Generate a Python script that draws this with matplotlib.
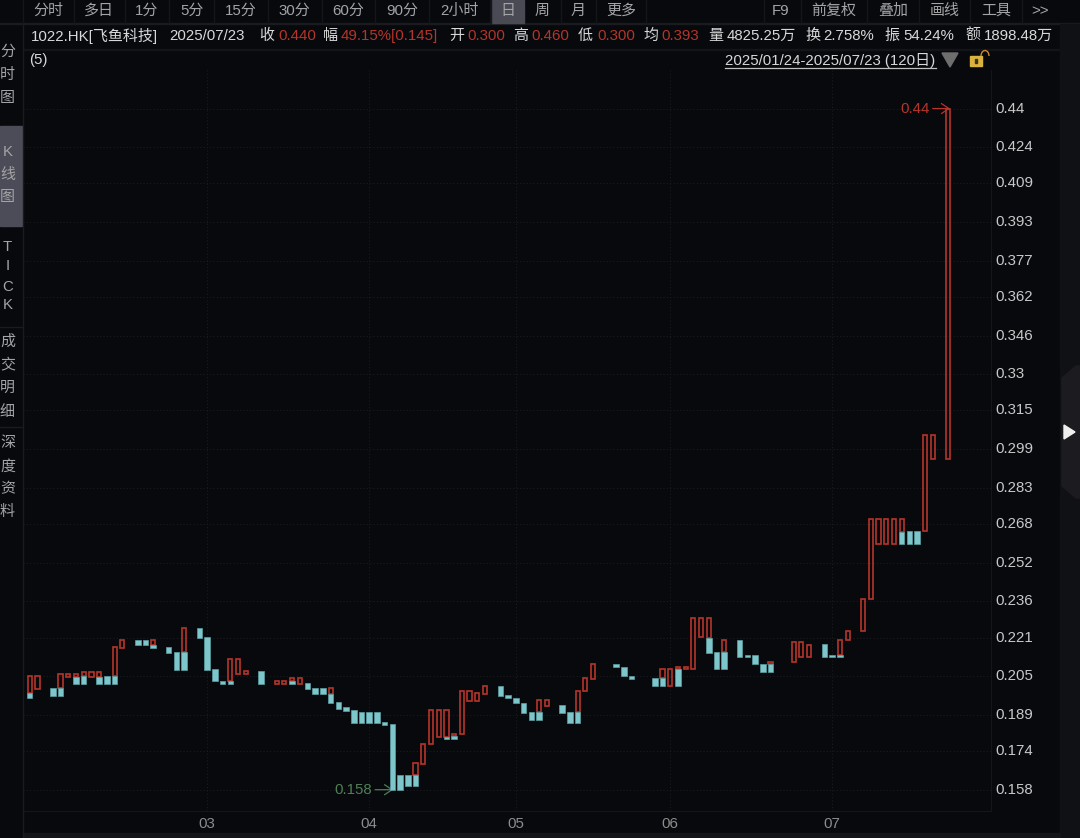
import matplotlib
matplotlib.use("Agg")
import matplotlib.pyplot as plt
from matplotlib.patches import Rectangle, Polygon, Arc
from matplotlib.transforms import ScaledTranslation

plt.rcParams["font.family"] = ["Liberation Sans", "Noto Sans CJK SC", "DejaVu Sans"]

W, H = 1080, 838
BG = "#08090d"
RED = "#b5352a"
TEAL = "#7cc6cc"
GREEN = "#4f7f55"
GREY = "#a4a4a6"
WHITE = "#d8d8d8"
GRID = "#191b1f"
LINE = "#15161a"

# up part of each daily bar: bar number, low, high
red_idx = [0, 1, 4, 5, 6, 7, 8, 9, 11, 12, 16, 20, 26, 27, 28, 32, 33, 34, 35, 39,
           50, 51, 52, 53, 54, 55, 56, 57, 58, 59, 66, 67, 71, 72, 73, 82, 83, 84, 85,
           86, 87, 88, 90, 96, 99, 100, 101, 105, 106, 108, 109, 110, 111, 112, 113,
           116, 117, 119]
red_low = [.1979, .1997, .2000, .2048, .2048, .2051, .2048, .2048, .2052, .2168, .2178,
           .2150, .2031, .2058, .2058, .2019, .2018, .2031, .2018, .1976,
           .1641, .1686, .1768, .1800, .1800, .1803, .1811, .1949, .1949, .1976,
           .1902, .1928, .1902, .1987, .2038, .2041, .2008, .2080, .2078,
           .2078, .2211, .2208, .2150, .2100, .2109, .2129, .2129, .2139, .2200,
           .2238, .2370, .2599, .2599, .2599, .2648, .2650, .2948, .2948]
red_high = [.2051, .2051, .2059, .2059, .2059, .2069, .2069, .2069, .2169, .2200, .2201,
            .2249, .2120, .2120, .2070, .2031, .2031, .2041, .2041, .2000,
            .1689, .1769, .1909, .1909, .1909, .1811, .1989, .1989, .1979, .2009,
            .1950, .1950, .1990, .2041, .2100, .2080, .2080, .2089, .2089,
            .2290, .2290, .2290, .2200, .2109, .2190, .2190, .2180, .2200, .2238,
            .2371, .2699, .2699, .2699, .2699, .2699, .3050, .3050, .4400]

# down part of each daily bar
teal_idx = [0, 3, 4, 6, 7, 9, 10, 11, 14, 15, 16, 18, 19, 20, 22, 23, 24, 25, 26, 30,
            34, 36, 37, 38, 39, 40, 41, 42, 43, 44, 45, 46, 47, 48, 49, 50, 54, 55,
            61, 62, 63, 64, 65, 66, 69, 70, 71, 76, 77, 78, 81, 82, 84, 88, 89, 90,
            92, 93, 94, 95, 96, 103, 104, 105, 113, 114, 115]
teal_low = [.1958, .1968, .1968, .2018, .2018, .2018, .2018, .2018, .2178, .2178, .2167,
            .2146, .2077, .2077, .2208, .2077, .2029, .2018, .2018, .2018,
            .2016, .1996, .1976, .1976, .1938, .1916, .1906, .1858, .1858, .1858, .1858,
            .1846, .1579, .1579, .1597, .1597, .1789, .1789,
            .1969, .1958, .1938, .1899, .1869, .1869, .1899, .1858, .1858, .2088, .2049,
            .2038, .2008, .2008, .2008, .2147, .2078, .2078,
            .2129, .2129, .2099, .2066, .2066, .2129, .2129, .2129, .2599, .2599, .2599]
teal_high = [.1979, .2000, .2000, .2048, .2051, .2048, .2052, .2052, .2201, .2201, .2178,
             .2171, .2150, .2150, .2251, .2211, .2080, .2031, .2031, .2070,
             .2031, .2022, .2001, .2001, .1976, .1942, .1921, .1909, .1903, .1903, .1903,
             .1862, .1851, .1641, .1641, .1641, .1800, .1803,
             .2009, .1971, .1961, .1940, .1902, .1902, .1929, .1902, .1902, .2100, .2089,
             .2051, .2041, .2041, .2080, .2208, .2149, .2150,
             .2200, .2138, .2138, .2102, .2100, .2182, .2139, .2139, .2648, .2651, .2651]

y_ticks = [0.158, 0.174, 0.189, 0.205, 0.221, 0.236, 0.252, 0.268, 0.283, 0.299,
           0.315, 0.33, 0.346, 0.362, 0.377, 0.393, 0.409, 0.424, 0.44]
month_idx = [23, 44, 63, 83, 104]
month_labels = ["03", "04", "05", "06", "07"]

top_tabs = ["分时", "多日", "1分", "5分", "15分", "30分", "60分", "90分", "2小时", "日", "周", "月", "更多"]
top_tab_x = [48, 99, 147, 192, 241, 294, 348, 402, 459, 508, 542, 578, 621]
top_tab_sep = [23, 74, 125, 169, 214, 268, 322, 375, 429, 491, 561, 596, 646, 764, 801, 867, 919, 970, 1022]
right_tabs = ["F9", "前复权", "叠加", "画线", "工具", ">>"]
right_tab_x = [781, 834, 893, 945, 996, 1040]

fig = plt.figure(figsize=(W / 100, H / 100), dpi=100, facecolor=BG)

# pixel space overlay for the terminal chrome
ui = fig.add_axes([0, 0, 1, 1], zorder=3)
ui.set_xlim(0, W)
ui.set_ylim(H, 0)
ui.axis("off")

L, R, T, B = 23, 991, 70, 811
ax = fig.add_axes([L / W, 1 - B / H, (R - L) / W, (B - T) / H], facecolor=BG, zorder=1)
ax.set_xlim((L - 29.7) / 7.717, (R - 29.7) / 7.717)
ax.set_ylim(0.158 - (B - 789.7) * 0.000414, 0.158 + (789.7 - T) * 0.000414)

ax.grid(True, color=GRID, lw=0.8, ls=(0, (1, 2)))
ax.set_axisbelow(True)
ax.set_yticks(y_ticks)
ax.set_xticks(month_idx)
ax.set_yticklabels([f"{v:g}" for v in y_ticks], color="#c8c8c8", fontsize=10.8)
ax.set_xticklabels(month_labels, color="#8c8c8c", fontsize=10.8)
ax.yaxis.tick_right()
ax.tick_params(axis="both", length=0)
ax.tick_params(axis="y", pad=3)
ax.tick_params(axis="x", pad=4)
for lab in ax.get_yticklabels():
    lab.set_transform(lab.get_transform() + ScaledTranslation(0, 1.5 / 100, fig.dpi_scale_trans))
for side in ["top", "left"]:
    ax.spines[side].set_visible(False)
for side in ["right", "bottom"]:
    ax.spines[side].set_color(LINE)

red_h = [b - a for a, b in zip(red_low, red_high)]
teal_h = [b - a for a, b in zip(teal_low, teal_high)]
ax.bar(red_idx, red_h, bottom=red_low, width=0.54, facecolor="none", edgecolor=RED, lw=1.2, zorder=3)
ax.bar(teal_idx, teal_h, bottom=teal_low, width=0.72, facecolor=TEAL, edgecolor="#5c9ea3", lw=0.5, zorder=4)

head = "->,head_length=0.45,head_width=0.3"
ax.annotate("0.44", xy=(119.26, 0.44), xytext=(-14.5, 0), textcoords="offset points", color=RED,
            fontsize=10.8, ha="right", va="center",
            arrowprops=dict(arrowstyle=head, color=RED, lw=0.9, shrinkA=0, shrinkB=0, mutation_scale=12))
ax.annotate("0.158", xy=(47.1, 0.158), xytext=(-15, 0), textcoords="offset points", color=GREEN,
            fontsize=10.8, ha="right", va="center",
            arrowprops=dict(arrowstyle=head, color=GREEN, lw=0.9, shrinkA=0, shrinkB=0, mutation_scale=12))

# top toolbar
ui.add_patch(Rectangle((0, 23), W, 1.5, color="#1a1b1f"))
ui.add_patch(Rectangle((491, 0), 33, 23, color="#4a4a55"))
for x in top_tab_sep:
    ui.plot([x, x], [0, 23], color=LINE, lw=1)
for s, x in zip(top_tabs, top_tab_x):
    ui.text(x, 11, s, color=GREY, fontsize=10.8, ha="center", va="center")
for s, x in zip(right_tabs, right_tab_x):
    ui.text(x, 11, s, color=GREY, fontsize=10.8, ha="center", va="center")

# quote line
quote = [(31, "1022.HK[飞鱼科技]", WHITE), (169, "2025/07/23", WHITE), (259, "收", WHITE),
         (278, "0.440", RED), (323, "幅", WHITE), (341, "49.15%[0.145]", RED),
         (449, "开", WHITE), (467, "0.300", RED), (513, "高", WHITE), (531, "0.460", RED),
         (578, "低", WHITE), (597, "0.300", RED), (643, "均", WHITE), (661, "0.393", RED),
         (708, "量", WHITE), (727, "4825.25万", WHITE), (805, "换", WHITE), (823, "2.758%", WHITE),
         (884, "振", WHITE), (903, "54.24%", WHITE), (965, "额", WHITE), (984, "1898.48万", WHITE)]
for x, s, c in quote:
    ui.text(x, 36, s, color=c, fontsize=10.8, ha="left", va="center")
ui.add_patch(Rectangle((23, 49), 1037, 1, color="#131418"))

ui.text(29, 60, "(5)", color=WHITE, fontsize=10.8, ha="left", va="center")
ui.text(725, 60, "2025/01/24-2025/07/23 (120日)", color=WHITE, fontsize=10.8, ha="left", va="center")
ui.plot([725, 936], [68, 68], color="#c0c0c0", lw=0.9)
ui.add_patch(Polygon([[942, 53], [958, 53], [950, 67]], color="#6e6e6e"))
# open lock
ui.add_patch(Rectangle((970, 56), 12, 10, color="#d9b23f"))
ui.add_patch(Arc((985, 56), 8, 11, theta1=180, theta2=360, color="#c98a2e", lw=1))
ui.add_patch(Rectangle((975, 59), 2, 4, color="#3d3414"))

# left tabs, written one character per line
ui.add_patch(Rectangle((0, 126), 22, 100, color="#4c4b58"))
ui.plot([22.5, 22.5], [24, 838], color="#1a1b1f", lw=1)
left_tabs = [("分", 52), ("时", 75), ("图", 98), ("K", 152), ("线", 175), ("图", 197),
             ("T", 247), ("I", 266), ("C", 287), ("K", 305), ("成", 342), ("交", 364),
             ("明", 388), ("细", 412), ("深", 443), ("度", 467), ("资", 489), ("料", 512)]
for s, y in left_tabs:
    ui.text(7.5, y, s, color=GREY, fontsize=10.8, ha="center", va="center")
for y in [327, 427]:
    ui.plot([0, 22], [y, y], color="#1a1b1f", lw=1)

# right side panel and collapse handle
ui.add_patch(Rectangle((1060, 24), 20, 814, color="#101114"))
ui.add_patch(Polygon([[1062, 378], [1076, 366], [1080, 366], [1080, 498], [1076, 498], [1062, 486]], color="#1c1c20"))
ui.add_patch(Polygon([[1064, 425], [1064, 439], [1075, 432]], color="#f0f0f0"))
ui.add_patch(Rectangle((23, 833), 1037, 5, color="#141518"))

fig.savefig("out.png", dpi=100, facecolor=BG)
plt.close(fig)
